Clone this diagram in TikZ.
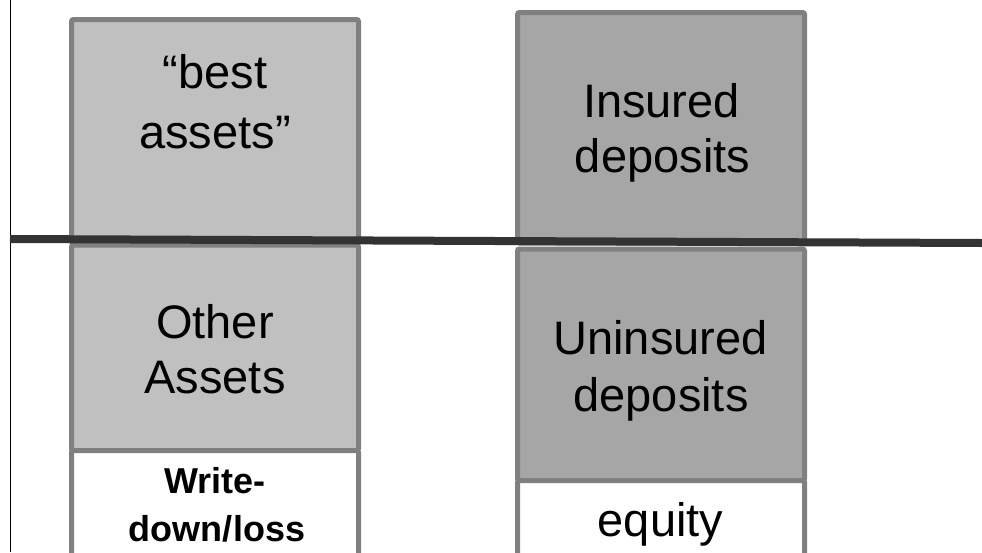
\documentclass[tikz,border=0pt]{standalone}
\usepackage{fontspec}
\setmainfont{Liberation Sans}
\definecolor{lightfill}{HTML}{C0C0C0}
\definecolor{darkfill}{HTML}{A6A6A6}
\definecolor{edgegray}{HTML}{808080}
\definecolor{dividercol}{HTML}{333333}
\begin{document}
\begin{tikzpicture}[x=1pt,y=-1pt,
  box/.style={draw=edgegray, line width=5pt, rounded corners=2pt, inner sep=0pt,
    minimum width=287pt, rectangle},
  lbl/.style={font=\fontsize{47}{55}\selectfont, inner sep=0pt, anchor=base},
  blbl/.style={font=\fontsize{36}{43}\selectfont\bfseries, inner sep=0pt, anchor=base},
  divline/.style={draw=dividercol, line width=8pt},
  axisline/.style={draw=black, line width=1.5pt}]
\useasboundingbox (0,0) rectangle (982,552);
\clip (0,0) rectangle (982,552);
\fill[white] (0,0) rectangle (982,552);
% left column
\node[box, fill=lightfill, minimum height=223.5pt] (best) at (215,131.25) {};
\node[box, fill=lightfill, minimum height=205.5pt] (other) at (215,347.75) {};
\node[box, fill=white, minimum height=119.5pt] (write) at (215,510.25) {};
% right column
\node[box, fill=darkfill, minimum height=230.5pt] (insured) at (661,127.75) {};
\node[box, fill=darkfill, minimum height=231.5pt] (uninsured) at (661,364.75) {};
\node[box, fill=white, minimum height=89.5pt] (equity) at (661,525.25) {};
% texts
\node[lbl] (t1a) at (215,88) {“best};
\node[lbl] (t1b) at (215,148) {assets”};
\node[lbl] (t2a) at (215,338) {Other};
\node[lbl] (t2b) at (215,393) {Assets};
\node[blbl] (t3a) at (215,493) {Write-};
\node[blbl] (t3b) at (217,541) {down/loss};
\node[lbl] (t4a) at (661.5,117) {Insured};
\node[lbl] (t4b) at (662.5,172) {deposits};
\node[lbl] (t5a) at (660.5,354) {Uninsured};
\node[lbl] (t5b) at (661,411) {deposits};
\node[lbl] (t6) at (660.5,536) {equity};
% lines
\coordinate (vtop) at (10.5,0);
\coordinate (vbot) at (10.5,552);
\draw[axisline] (vtop) -- (vbot);
\coordinate (dleft) at (10,239);
\coordinate (dright) at (982,243);
\draw[divline] (dleft) -- (dright);
\end{tikzpicture}
\end{document}
